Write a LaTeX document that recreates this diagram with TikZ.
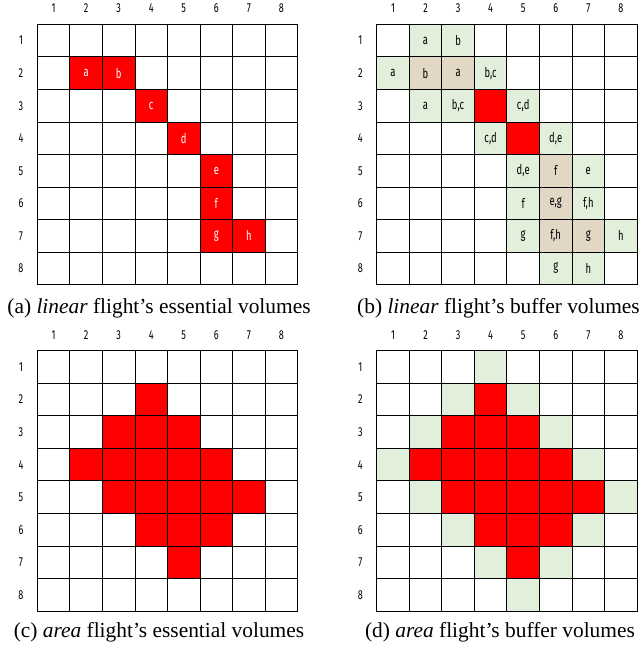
\documentclass[tikz,border=0pt]{standalone}
\usepackage{fontspec}
\setmainfont{Liberation Serif}
\newfontfamily\cellfont[FakeStretch=0.7]{Fira Sans}
\definecolor{bufgreen}{RGB}{226,239,218}
\definecolor{buftan}{RGB}{226,214,197}
\definecolor{essred}{RGB}{255,0,0}
\tikzset{
  cell/.style={draw=black, line width=0.9pt, fill=white, minimum size=32.55pt, inner sep=0pt, outer sep=0pt, font=\cellfont\fontsize{13.5}{14}\selectfont},
  redcell/.style={cell, fill=essred, text=white},
  greencell/.style={cell, fill=bufgreen, text=black},
  tancell/.style={cell, fill=buftan, text=black},
  axislab/.style={inner sep=0pt, font=\cellfont\fontsize{13}{14}\selectfont},
  caption/.style={inner sep=0pt, font=\fontsize{21.4}{24}\selectfont}
}
\newcommand{\gridpanel}[3]{%
  \foreach \c in {1,...,8} {\node[axislab] (#1-col\c) at ({#2+(\c-0.5)*32.55},{#3-15.8}) {\c};}
  \foreach \r in {1,...,8} {\node[axislab] (#1-row\r) at ({#2-16.3},{#3+(\r-0.5)*32.55}) {\r};}
  \foreach \r in {1,...,8} {\foreach \c in {1,...,8} {\node[cell] (#1-\r-\c) at ({#2+(\c-0.5)*32.55},{#3+(\r-0.5)*32.55}) {};}}
}
\newcommand{\markcell}[5]{\node[#4] (#1-#2-#3x) at (#1-#2-#3) {#5};}
\begin{document}
\begin{tikzpicture}[x=1pt,y=-1pt]
\useasboundingbox (0,0) rectangle (642,646);
% (a)
\gridpanel{A}{37.3}{24.3}
\markcell{A}{2}{2}{redcell}{a}
\markcell{A}{2}{3}{redcell}{b}
\markcell{A}{3}{4}{redcell}{c}
\markcell{A}{4}{5}{redcell}{d}
\markcell{A}{5}{6}{redcell}{e}
\markcell{A}{6}{6}{redcell}{f}
\markcell{A}{7}{6}{redcell}{g}
\markcell{A}{7}{7}{redcell}{h}
\node[caption] (capA) at (159,308) {(a) \textit{linear} flight’s essential volumes};
% (b)
\gridpanel{B}{376.7}{24.3}
\markcell{B}{1}{2}{greencell}{a}
\markcell{B}{1}{3}{greencell}{b}
\markcell{B}{2}{1}{greencell}{a}
\markcell{B}{2}{2}{tancell}{b}
\markcell{B}{2}{3}{tancell}{a}
\markcell{B}{2}{4}{greencell}{b,c}
\markcell{B}{3}{2}{greencell}{a}
\markcell{B}{3}{3}{greencell}{b,c}
\markcell{B}{3}{4}{redcell}{}
\markcell{B}{3}{5}{greencell}{c,d}
\markcell{B}{4}{4}{greencell}{c,d}
\markcell{B}{4}{5}{redcell}{}
\markcell{B}{4}{6}{greencell}{d,e}
\markcell{B}{5}{5}{greencell}{d,e}
\markcell{B}{5}{6}{tancell}{f}
\markcell{B}{5}{7}{greencell}{e}
\markcell{B}{6}{5}{greencell}{f}
\markcell{B}{6}{6}{tancell}{e,g}
\markcell{B}{6}{7}{greencell}{f,h}
\markcell{B}{7}{5}{greencell}{g}
\markcell{B}{7}{6}{tancell}{f,h}
\markcell{B}{7}{7}{tancell}{g}
\markcell{B}{7}{8}{greencell}{h}
\markcell{B}{8}{6}{greencell}{g}
\markcell{B}{8}{7}{greencell}{h}
\node[caption] (capB) at (498.5,308) {(b) \textit{linear} flight’s buffer volumes};
% (c)
\gridpanel{C}{37.3}{350.7}
\foreach \r/\c in {2/4, 3/3,3/4,3/5, 4/2,4/3,4/4,4/5,4/6, 5/3,5/4,5/5,5/6,5/7, 6/4,6/5,6/6, 7/5}
  {\markcell{C}{\r}{\c}{redcell}{}}
\node[caption] (capC) at (159,632) {(c) \textit{area} flight’s essential volumes};
% (d)
\gridpanel{D}{376.7}{350.7}
\foreach \r/\c in {2/4, 3/3,3/4,3/5, 4/2,4/3,4/4,4/5,4/6, 5/3,5/4,5/5,5/6,5/7, 6/4,6/5,6/6, 7/5}
  {\markcell{D}{\r}{\c}{redcell}{}}
\foreach \r/\c in {1/4, 2/3,2/5, 3/2,3/6, 4/1,4/7, 5/2,5/8, 6/3,6/7, 7/4,7/6, 8/5}
  {\markcell{D}{\r}{\c}{greencell}{}}
\node[caption] (capD) at (500,632) {(d) \textit{area} flight’s buffer volumes};
\end{tikzpicture}
\end{document}
